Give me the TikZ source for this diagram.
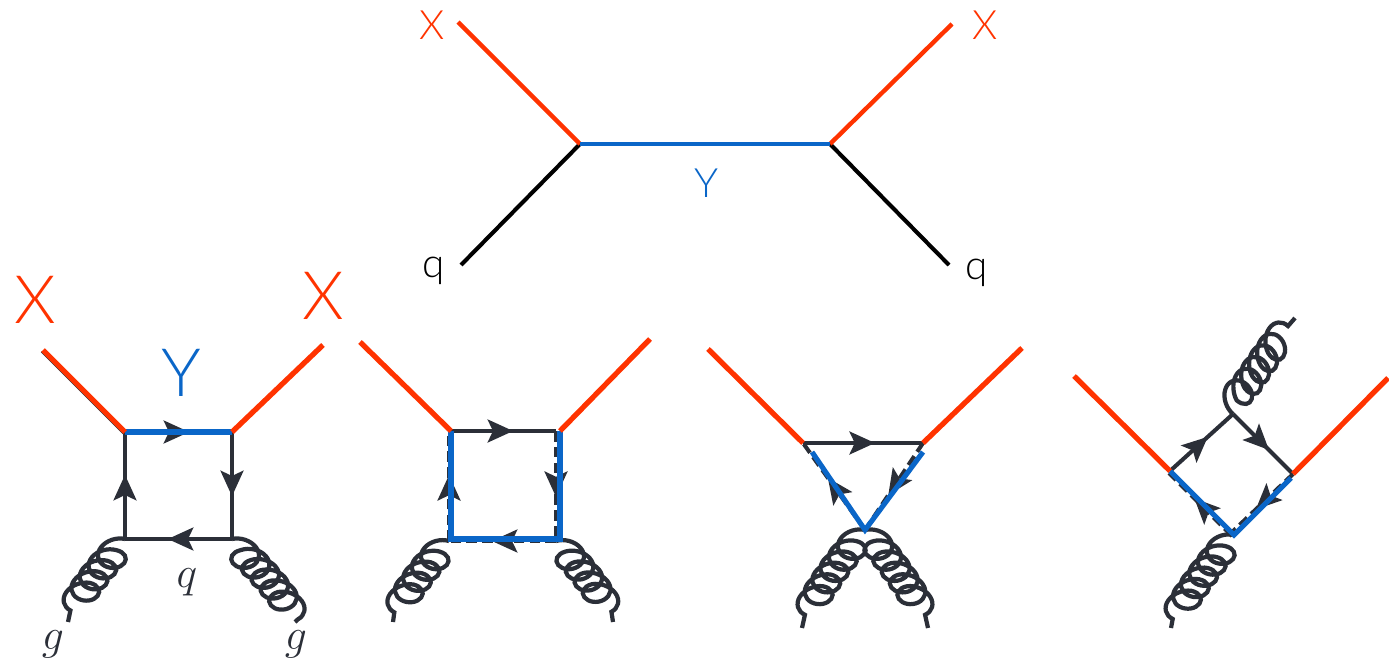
\documentclass[tikz,border=0pt]{standalone}
\usepackage{amsmath, amssymb}
\usepackage{fontspec}
\setmainfont{Lato Light}
\usetikzlibrary{arrows.meta,decorations.markings,decorations.pathmorphing}
\definecolor{xred}{HTML}{FF3300}
\definecolor{yblue}{HTML}{0A66C8}
\definecolor{qdark}{HTML}{2B2F38}
\tikzset{
  xline/.style={draw=xred, line width=3pt},
  yline/.style={draw=yblue, line width=2.9pt},
  xthin/.style={draw=xred, line width=2.5pt},
  ythin/.style={draw=yblue, line width=2.5pt},
  qline/.style={draw=black, line width=2.3pt},
  loopline/.style={draw=qdark, line width=2.3pt, postaction={decorate},
    decoration={markings, mark=at position 0.6 with {\arrow{Stealth[length=14.5pt, width=13pt, inset=3pt]}}}},
  dashline/.style={loopline, dash pattern=on 6pt off 3pt},
  gluon/.style={draw=qdark, line width=2.4pt, decorate,
    decoration={coil, aspect=0.95, segment length=8pt, amplitude=8pt, transform={xslant=0.3}}},
  gluonleft/.style={draw=qdark, line width=2.4pt, decorate,
    decoration={coil, aspect=-0.95, segment length=8pt, amplitude=-8pt, transform={xslant=-0.3}}},
  smalllabel/.style={font=\fontsize{23}{23}\selectfont, inner sep=0pt},
  biglabel/.style={font=\fontsize{38}{38}\selectfont, inner sep=0pt},
  mathlabel/.style={font=\fontsize{24}{24}\selectfont, text=qdark, inner sep=0pt}
}
\begin{document}
\begin{tikzpicture}[x=0.02cm, y=-0.02cm]
  \useasboundingbox (0,0) rectangle (1389,662);

  % quark scattering
  \coordinate (tl) at (580,144);
  \coordinate (tr) at (830,144);
  \coordinate (xa) at (458,22);
  \coordinate (xb) at (952,24);
  \coordinate (qa) at (461,265);
  \coordinate (qb) at (949,265);
  \draw[qline] (tl) -- (qa);
  \draw[qline] (tr) -- (qb);
  \draw[xthin] (xa) -- (tl);
  \draw[xthin] (xb) -- (tr);
  \draw[ythin] (tl) -- (tr);
  \node[smalllabel, text=xred] (xal) at (432,25) {X};
  \node[smalllabel, text=xred] (xbl) at (985,25) {X};
  \node[smalllabel, text=yblue] (yl) at (707,183) {Y};
  \node[smalllabel] (qal) at (434,271) {q};
  \node[smalllabel] (qbl) at (977,273) {q};

  % first box
  \coordinate (a1) at (125,432);
  \coordinate (a2) at (232,432);
  \coordinate (a3) at (232,539);
  \coordinate (a4) at (125,539);
  \coordinate (a5) at (43,350);
  \coordinate (a6) at (323,345);
  \coordinate (a7) at (68,622);
  \coordinate (a8) at (295,622);
  \draw[gluonleft] (a4) .. controls (112,556) and (80,590) .. (a7);
  \draw[gluon] (a3) .. controls (245,556) and (283,590) .. (a8);
  \draw[loopline] (a1) -- (a2);
  \draw[loopline] (a2) -- (a3);
  \draw[loopline] (a3) -- (a4);
  \draw[loopline] (a4) -- (a1);
  \draw[draw=qdark, line width=1pt, transform canvas={shift={(-0.9pt,-0.9pt)}}] (a5) -- (a1);
  \draw[yline] (a1) -- (a2);
  \draw[xline] (a5) -- (a1);
  \draw[xline] (a6) -- (a2);
  \node[biglabel, text=xred] (a5l) at (35,300) {X};
  \node[biglabel, text=xred] (a6l) at (323,296) {X};
  \node[biglabel, text=yblue] (ayl) at (181,373) {Y};
  \node[mathlabel] (aql) at (187,582) {$q$};
  \node[mathlabel] (a7l) at (53,644) {$g$};
  \node[mathlabel] (a8l) at (296,644) {$g$};

  % second box
  \coordinate (b1) at (449,431);
  \coordinate (b2) at (556,431);
  \coordinate (b3) at (556,541);
  \coordinate (b4) at (449,541);
  \coordinate (b5) at (360,342);
  \coordinate (b6) at (650,339);
  \coordinate (b7) at (393,622);
  \coordinate (b8) at (613,622);
  \coordinate (be) at (451,431);
  \coordinate (bf) at (451,539);
  \coordinate (bg) at (560,539);
  \coordinate (bh) at (560,431);
  \draw[gluonleft] (b4) .. controls (436,556) and (405,590) .. (b7);
  \draw[gluon] (b3) .. controls (569,556) and (601,590) .. (b8);
  \draw[loopline] (b1) -- (b2);
  \draw[dashline] (b2) -- (b3);
  \draw[dashline] (b3) -- (b4);
  \draw[dashline] (b4) -- (b1);
  \draw[yline] (be) -- (bf) -- (bg) -- (bh);
  \draw[xline] (b5) -- (be);
  \draw[xline] (b6) -- (bh);

  % triangle
  \coordinate (c1) at (803,443);
  \coordinate (c2) at (923,443);
  \coordinate (c3) at (865,530);
  \coordinate (c4) at (708,349);
  \coordinate (c5) at (1022,348);
  \coordinate (c6) at (802,628);
  \coordinate (c7) at (928,628);
  \coordinate (c8) at (812,452);
  \coordinate (c9) at (923,452);
  \draw[gluonleft] (c3) .. controls (851,548) and (815,590) .. (c6);
  \draw[gluon] (c3) .. controls (879,548) and (915,590) .. (c7);
  \draw[loopline] (c1) -- (c2);
  \draw[dashline] (c2) -- (c3);
  \draw[dashline] (c3) -- (c1);
  \draw[yline] (c8) -- (c3) -- (c9);
  \draw[xline] (c4) -- (c1);
  \draw[xline] (c5) -- (c2);

  % rotated box
  \coordinate (d1) at (1170,471);
  \coordinate (d2) at (1233,414);
  \coordinate (d3) at (1293,474);
  \coordinate (d4) at (1234,535);
  \coordinate (d5) at (1074,376);
  \coordinate (d6) at (1388,378);
  \coordinate (d7) at (1295,318);
  \coordinate (d8) at (1171,628);
  \coordinate (d9) at (1291,478);
  \coordinate (da) at (1169,473);
  \coordinate (db) at (1232,536);
  \coordinate (dc) at (1231,533);
  \draw[gluon] (d2) .. controls (1238,396) and (1270,350) .. (d7);
  \draw[gluonleft] (d4) .. controls (1220,553) and (1184,595) .. (d8);
  \draw[loopline] (d1) -- (d2);
  \draw[loopline] (d2) -- (d3);
  \draw[dashline] (d3) -- (dc);
  \draw[dashline] (db) -- (da);
  \draw[yline] (d1) -- (d4) -- (d9);
  \draw[xline] (d5) -- (d1);
  \draw[xline] (d6) -- (d3);
\end{tikzpicture}
\end{document}
